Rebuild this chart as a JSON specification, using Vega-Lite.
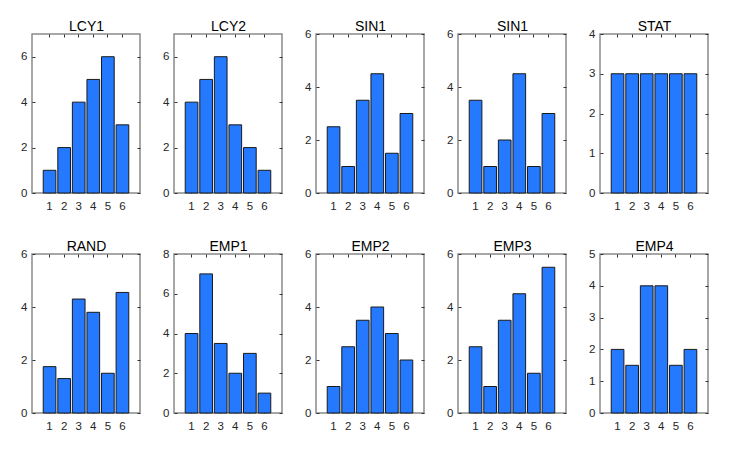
{
  "$schema": "https://vega.github.io/schema/vega-lite/v6.json",
  "padding": {"left": 19, "top": 18, "right": 0, "bottom": 0},
  "data": {"values": [
    {"p": "LCY1", "c": 1, "v": 1}, {"p": "LCY1", "c": 2, "v": 2}, {"p": "LCY1", "c": 3, "v": 4}, {"p": "LCY1", "c": 4, "v": 5}, {"p": "LCY1", "c": 5, "v": 6}, {"p": "LCY1", "c": 6, "v": 3},
    {"p": "LCY2", "c": 1, "v": 4}, {"p": "LCY2", "c": 2, "v": 5}, {"p": "LCY2", "c": 3, "v": 6}, {"p": "LCY2", "c": 4, "v": 3}, {"p": "LCY2", "c": 5, "v": 2}, {"p": "LCY2", "c": 6, "v": 1},
    {"p": "SIN1a", "c": 1, "v": 2.5}, {"p": "SIN1a", "c": 2, "v": 1}, {"p": "SIN1a", "c": 3, "v": 3.5}, {"p": "SIN1a", "c": 4, "v": 4.5}, {"p": "SIN1a", "c": 5, "v": 1.5}, {"p": "SIN1a", "c": 6, "v": 3},
    {"p": "SIN1b", "c": 1, "v": 3.5}, {"p": "SIN1b", "c": 2, "v": 1}, {"p": "SIN1b", "c": 3, "v": 2}, {"p": "SIN1b", "c": 4, "v": 4.5}, {"p": "SIN1b", "c": 5, "v": 1}, {"p": "SIN1b", "c": 6, "v": 3},
    {"p": "STAT", "c": 1, "v": 3}, {"p": "STAT", "c": 2, "v": 3}, {"p": "STAT", "c": 3, "v": 3}, {"p": "STAT", "c": 4, "v": 3}, {"p": "STAT", "c": 5, "v": 3}, {"p": "STAT", "c": 6, "v": 3},
    {"p": "RAND", "c": 1, "v": 1.75}, {"p": "RAND", "c": 2, "v": 1.3}, {"p": "RAND", "c": 3, "v": 4.3}, {"p": "RAND", "c": 4, "v": 3.8}, {"p": "RAND", "c": 5, "v": 1.5}, {"p": "RAND", "c": 6, "v": 4.55},
    {"p": "EMP1", "c": 1, "v": 4}, {"p": "EMP1", "c": 2, "v": 7}, {"p": "EMP1", "c": 3, "v": 3.5}, {"p": "EMP1", "c": 4, "v": 2}, {"p": "EMP1", "c": 5, "v": 3}, {"p": "EMP1", "c": 6, "v": 1},
    {"p": "EMP2", "c": 1, "v": 1}, {"p": "EMP2", "c": 2, "v": 2.5}, {"p": "EMP2", "c": 3, "v": 3.5}, {"p": "EMP2", "c": 4, "v": 4}, {"p": "EMP2", "c": 5, "v": 3}, {"p": "EMP2", "c": 6, "v": 2},
    {"p": "EMP3", "c": 1, "v": 2.5}, {"p": "EMP3", "c": 2, "v": 1}, {"p": "EMP3", "c": 3, "v": 3.5}, {"p": "EMP3", "c": 4, "v": 4.5}, {"p": "EMP3", "c": 5, "v": 1.5}, {"p": "EMP3", "c": 6, "v": 5.5},
    {"p": "EMP4", "c": 1, "v": 2}, {"p": "EMP4", "c": 2, "v": 1.5}, {"p": "EMP4", "c": 3, "v": 4}, {"p": "EMP4", "c": 4, "v": 4}, {"p": "EMP4", "c": 5, "v": 1.5}, {"p": "EMP4", "c": 6, "v": 2}
  ]},
  "columns": 5,
  "spacing": {"row": 61, "column": 34},
  "bounds": "flush",
  "concat": [
    {"width": 108, "height": 159, "transform": [{"filter": "datum.p == 'LCY1'"}],
     "layer": [
      {"mark": {"type": "bar", "color": "#2479ff", "stroke": "#1a1a1a", "strokeWidth": 1},
       "encoding": {"x": {"field": "c", "type": "ordinal", "scale": {"paddingInner": 0.13, "paddingOuter": 0.77}, "axis": {"orient": "bottom"}},
                    "y": {"field": "v", "type": "quantitative", "scale": {"domain": [0, 7], "nice": false}, "axis": {"orient": "left", "values": [0, 2, 4, 6]}}}},
      {"mark": {"type": "bar", "opacity": 0},
       "encoding": {"x": {"field": "c", "type": "ordinal", "axis": {"orient": "top", "labels": false, "title": "LCY1"}},
                    "y": {"field": "v", "type": "quantitative", "axis": {"orient": "right", "labels": false, "values": [0, 2, 4, 6]}}}}
     ],
     "resolve": {"axis": {"x": "independent", "y": "independent"}}},
    {"width": 108, "height": 159, "transform": [{"filter": "datum.p == 'LCY2'"}],
     "layer": [
      {"mark": {"type": "bar", "color": "#2479ff", "stroke": "#1a1a1a", "strokeWidth": 1},
       "encoding": {"x": {"field": "c", "type": "ordinal", "scale": {"paddingInner": 0.13, "paddingOuter": 0.77}, "axis": {"orient": "bottom"}},
                    "y": {"field": "v", "type": "quantitative", "scale": {"domain": [0, 7], "nice": false}, "axis": {"orient": "left", "values": [0, 2, 4, 6]}}}},
      {"mark": {"type": "bar", "opacity": 0},
       "encoding": {"x": {"field": "c", "type": "ordinal", "axis": {"orient": "top", "labels": false, "title": "LCY2"}},
                    "y": {"field": "v", "type": "quantitative", "axis": {"orient": "right", "labels": false, "values": [0, 2, 4, 6]}}}}
     ],
     "resolve": {"axis": {"x": "independent", "y": "independent"}}},
    {"width": 108, "height": 159, "transform": [{"filter": "datum.p == 'SIN1a'"}],
     "layer": [
      {"mark": {"type": "bar", "color": "#2479ff", "stroke": "#1a1a1a", "strokeWidth": 1},
       "encoding": {"x": {"field": "c", "type": "ordinal", "scale": {"paddingInner": 0.13, "paddingOuter": 0.77}, "axis": {"orient": "bottom"}},
                    "y": {"field": "v", "type": "quantitative", "scale": {"domain": [0, 6], "nice": false}, "axis": {"orient": "left", "values": [0, 2, 4, 6]}}}},
      {"mark": {"type": "bar", "opacity": 0},
       "encoding": {"x": {"field": "c", "type": "ordinal", "axis": {"orient": "top", "labels": false, "title": "SIN1"}},
                    "y": {"field": "v", "type": "quantitative", "axis": {"orient": "right", "labels": false, "values": [0, 2, 4, 6]}}}}
     ],
     "resolve": {"axis": {"x": "independent", "y": "independent"}}},
    {"width": 108, "height": 159, "transform": [{"filter": "datum.p == 'SIN1b'"}],
     "layer": [
      {"mark": {"type": "bar", "color": "#2479ff", "stroke": "#1a1a1a", "strokeWidth": 1},
       "encoding": {"x": {"field": "c", "type": "ordinal", "scale": {"paddingInner": 0.13, "paddingOuter": 0.77}, "axis": {"orient": "bottom"}},
                    "y": {"field": "v", "type": "quantitative", "scale": {"domain": [0, 6], "nice": false}, "axis": {"orient": "left", "values": [0, 2, 4, 6]}}}},
      {"mark": {"type": "bar", "opacity": 0},
       "encoding": {"x": {"field": "c", "type": "ordinal", "axis": {"orient": "top", "labels": false, "title": "SIN1"}},
                    "y": {"field": "v", "type": "quantitative", "axis": {"orient": "right", "labels": false, "values": [0, 2, 4, 6]}}}}
     ],
     "resolve": {"axis": {"x": "independent", "y": "independent"}}},
    {"width": 108, "height": 159, "transform": [{"filter": "datum.p == 'STAT'"}],
     "layer": [
      {"mark": {"type": "bar", "color": "#2479ff", "stroke": "#1a1a1a", "strokeWidth": 1},
       "encoding": {"x": {"field": "c", "type": "ordinal", "scale": {"paddingInner": 0.13, "paddingOuter": 0.77}, "axis": {"orient": "bottom"}},
                    "y": {"field": "v", "type": "quantitative", "scale": {"domain": [0, 4], "nice": false}, "axis": {"orient": "left", "values": [0, 1, 2, 3, 4]}}}},
      {"mark": {"type": "bar", "opacity": 0},
       "encoding": {"x": {"field": "c", "type": "ordinal", "axis": {"orient": "top", "labels": false, "title": "STAT"}},
                    "y": {"field": "v", "type": "quantitative", "axis": {"orient": "right", "labels": false, "values": [0, 1, 2, 3, 4]}}}}
     ],
     "resolve": {"axis": {"x": "independent", "y": "independent"}}},
    {"width": 108, "height": 159, "transform": [{"filter": "datum.p == 'RAND'"}],
     "layer": [
      {"mark": {"type": "bar", "color": "#2479ff", "stroke": "#1a1a1a", "strokeWidth": 1},
       "encoding": {"x": {"field": "c", "type": "ordinal", "scale": {"paddingInner": 0.13, "paddingOuter": 0.77}, "axis": {"orient": "bottom"}},
                    "y": {"field": "v", "type": "quantitative", "scale": {"domain": [0, 6], "nice": false}, "axis": {"orient": "left", "values": [0, 2, 4, 6]}}}},
      {"mark": {"type": "bar", "opacity": 0},
       "encoding": {"x": {"field": "c", "type": "ordinal", "axis": {"orient": "top", "labels": false, "title": "RAND"}},
                    "y": {"field": "v", "type": "quantitative", "axis": {"orient": "right", "labels": false, "values": [0, 2, 4, 6]}}}}
     ],
     "resolve": {"axis": {"x": "independent", "y": "independent"}}},
    {"width": 108, "height": 159, "transform": [{"filter": "datum.p == 'EMP1'"}],
     "layer": [
      {"mark": {"type": "bar", "color": "#2479ff", "stroke": "#1a1a1a", "strokeWidth": 1},
       "encoding": {"x": {"field": "c", "type": "ordinal", "scale": {"paddingInner": 0.13, "paddingOuter": 0.77}, "axis": {"orient": "bottom"}},
                    "y": {"field": "v", "type": "quantitative", "scale": {"domain": [0, 8], "nice": false}, "axis": {"orient": "left", "values": [0, 2, 4, 6, 8]}}}},
      {"mark": {"type": "bar", "opacity": 0},
       "encoding": {"x": {"field": "c", "type": "ordinal", "axis": {"orient": "top", "labels": false, "title": "EMP1"}},
                    "y": {"field": "v", "type": "quantitative", "axis": {"orient": "right", "labels": false, "values": [0, 2, 4, 6, 8]}}}}
     ],
     "resolve": {"axis": {"x": "independent", "y": "independent"}}},
    {"width": 108, "height": 159, "transform": [{"filter": "datum.p == 'EMP2'"}],
     "layer": [
      {"mark": {"type": "bar", "color": "#2479ff", "stroke": "#1a1a1a", "strokeWidth": 1},
       "encoding": {"x": {"field": "c", "type": "ordinal", "scale": {"paddingInner": 0.13, "paddingOuter": 0.77}, "axis": {"orient": "bottom"}},
                    "y": {"field": "v", "type": "quantitative", "scale": {"domain": [0, 6], "nice": false}, "axis": {"orient": "left", "values": [0, 2, 4, 6]}}}},
      {"mark": {"type": "bar", "opacity": 0},
       "encoding": {"x": {"field": "c", "type": "ordinal", "axis": {"orient": "top", "labels": false, "title": "EMP2"}},
                    "y": {"field": "v", "type": "quantitative", "axis": {"orient": "right", "labels": false, "values": [0, 2, 4, 6]}}}}
     ],
     "resolve": {"axis": {"x": "independent", "y": "independent"}}},
    {"width": 108, "height": 159, "transform": [{"filter": "datum.p == 'EMP3'"}],
     "layer": [
      {"mark": {"type": "bar", "color": "#2479ff", "stroke": "#1a1a1a", "strokeWidth": 1},
       "encoding": {"x": {"field": "c", "type": "ordinal", "scale": {"paddingInner": 0.13, "paddingOuter": 0.77}, "axis": {"orient": "bottom"}},
                    "y": {"field": "v", "type": "quantitative", "scale": {"domain": [0, 6], "nice": false}, "axis": {"orient": "left", "values": [0, 2, 4, 6]}}}},
      {"mark": {"type": "bar", "opacity": 0},
       "encoding": {"x": {"field": "c", "type": "ordinal", "axis": {"orient": "top", "labels": false, "title": "EMP3"}},
                    "y": {"field": "v", "type": "quantitative", "axis": {"orient": "right", "labels": false, "values": [0, 2, 4, 6]}}}}
     ],
     "resolve": {"axis": {"x": "independent", "y": "independent"}}},
    {"width": 108, "height": 159, "transform": [{"filter": "datum.p == 'EMP4'"}],
     "layer": [
      {"mark": {"type": "bar", "color": "#2479ff", "stroke": "#1a1a1a", "strokeWidth": 1},
       "encoding": {"x": {"field": "c", "type": "ordinal", "scale": {"paddingInner": 0.13, "paddingOuter": 0.77}, "axis": {"orient": "bottom"}},
                    "y": {"field": "v", "type": "quantitative", "scale": {"domain": [0, 5], "nice": false}, "axis": {"orient": "left", "values": [0, 1, 2, 3, 4, 5]}}}},
      {"mark": {"type": "bar", "opacity": 0},
       "encoding": {"x": {"field": "c", "type": "ordinal", "axis": {"orient": "top", "labels": false, "title": "EMP4"}},
                    "y": {"field": "v", "type": "quantitative", "axis": {"orient": "right", "labels": false, "values": [0, 1, 2, 3, 4, 5]}}}}
     ],
     "resolve": {"axis": {"x": "independent", "y": "independent"}}}
  ],
  "config": {
    "background": "white",
    "view": {"stroke": "#8a8a8a", "strokeWidth": 1.5},
    "axis": {"domain": false, "grid": false, "title": null, "tickColor": "#333333", "tickSize": -3, "tickWidth": 1, "labelFont": "Liberation Sans", "labelFontSize": 11.5, "labelColor": "#262626", "labelAngle": 0},
    "axisLeft": {"labelPadding": 8},
    "axisBottom": {"labelPadding": 10},
    "axisTop": {"titleFont": "Liberation Sans", "titleFontSize": 14, "titleFontWeight": "normal", "titleColor": "#000000", "titlePadding": 0.5}
  }
}
